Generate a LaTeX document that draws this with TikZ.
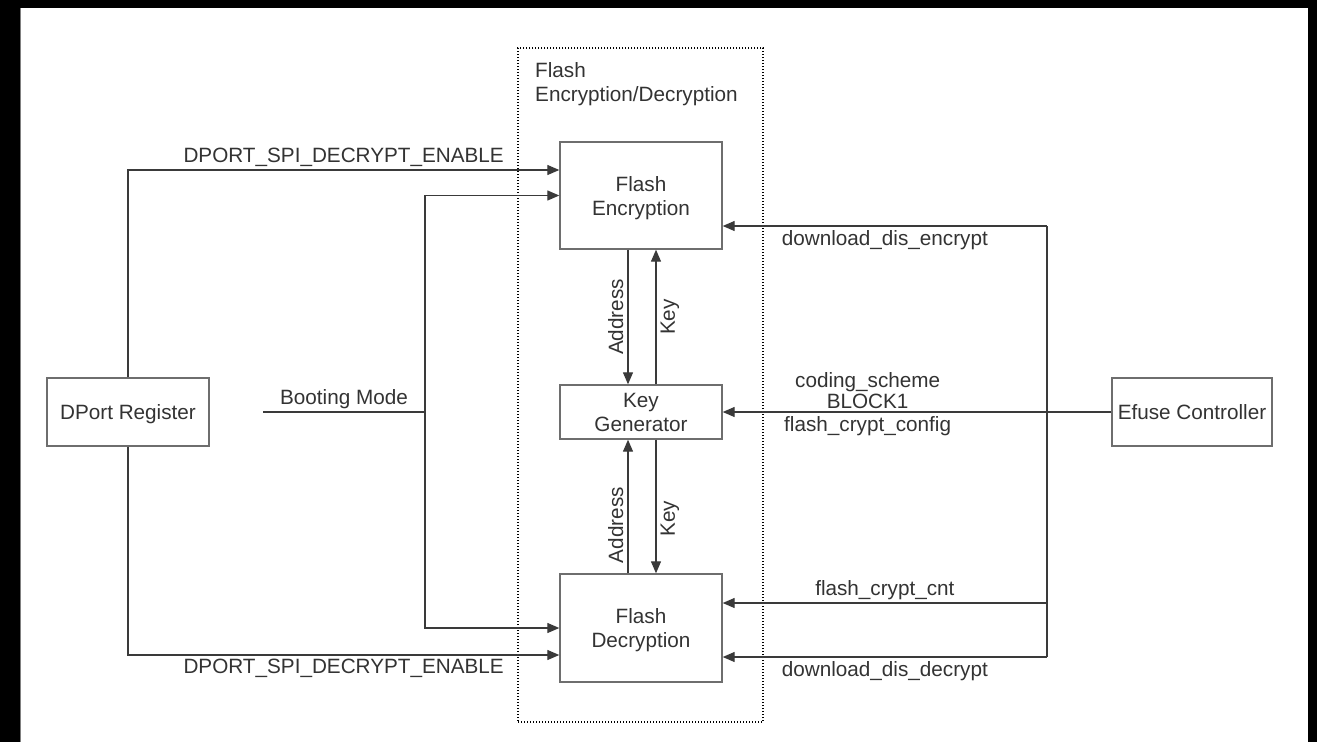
\documentclass[tikz,border=0pt]{standalone}
\usepackage{fontspec}
\setmainfont{Liberation Sans}
\usetikzlibrary{arrows.meta}
\definecolor{inkgray}{HTML}{333333}
\definecolor{linegray}{HTML}{3A3A3A}
\definecolor{boxgray}{HTML}{6E6E6E}
\begin{document}
\begin{tikzpicture}[x=1pt,y=-1pt,
  every node/.style={text=inkgray, font=\fontsize{20.7}{24}\selectfont},
  blockbox/.style={draw=boxgray, line width=1.4pt, inner sep=0pt, align=center,
    minimum width=162pt, text depth=0pt},
  wire/.style={draw=linegray, line width=1.3pt},
  arr/.style={wire, -{Triangle[length=12pt,width=10pt]}},
  sidelabel/.style={inner sep=4pt},
  frame/.style={draw=black, line width=1.3pt, dash pattern=on 1.4pt off 1.6pt}
]
% canvas with dark edge strips
\fill[black] (0,0) rectangle (1317,742);
\fill[white] (20,8) rectangle (1308,742);
\draw[gray, line width=1pt] (20.5,8) -- (20.5,742);

% dotted enclosure and its title
\node[frame, minimum width=245pt, minimum height=674pt, inner sep=0pt] (fed) at (640.5,385) {};
\node[anchor=north west, inner sep=0pt, align=left] (fedtitle) at (535,62)
  {Flash\\Encryption/Decryption};

% blocks
\node[blockbox, minimum height=68pt] (dport) at (128,412) {DPort Register};
\node[blockbox, minimum width=160pt, minimum height=68pt] (efuse) at (1192,412) {Efuse Controller};
\node[blockbox, minimum height=107pt] (enc) at (641,195.5) {Flash\\Encryption};
\node[blockbox, minimum height=54pt] (kg) at (641,412) {Key\\Generator};
\node[blockbox, minimum height=108pt] (dec) at (641,628) {Flash\\Decryption};

% free ends and junctions
\coordinate (bootstart) at (263,412);
\coordinate (bootjoin) at (425,412);
\coordinate (rtop) at (1047,226);
\coordinate (rmid) at (1047,603);
\coordinate (rbot) at (1047,657);

% DPort register enables
\draw[arr] (dport.north) |- ([yshift=25.5pt]enc.west)
  node[pos=0.75, above, inner sep=3pt] {DPORT\_SPI\_DECRYPT\_ENABLE};
\draw[arr] (dport.south) |- ([yshift=-27pt]dec.west)
  node[pos=0.75, below, inner sep=3pt] {DPORT\_SPI\_DECRYPT\_ENABLE};

% booting mode
\draw[wire] (bootstart) -- (bootjoin) node[midway, above, inner sep=3pt] {Booting Mode};
\draw[arr] (bootjoin) |- (enc.west);
\draw[arr] (bootjoin) |- (dec.west);

% address / key exchange
\draw[arr] ([xshift=-13pt]enc.south) -- ([xshift=-13pt]kg.north)
  node[midway, rotate=90, anchor=south, sidelabel] {Address};
\draw[arr] ([xshift=15pt]kg.north) -- ([xshift=15pt]enc.south)
  node[midway, rotate=90, anchor=north, sidelabel] {Key};
\draw[arr] ([xshift=-13pt]dec.north) -- ([xshift=-13pt]kg.south)
  node[pos=0.36, rotate=90, anchor=south, sidelabel] {Address};
\draw[arr] ([xshift=15pt]kg.south) -- ([xshift=15pt]dec.north)
  node[pos=0.59, rotate=90, anchor=north, sidelabel] {Key};

% efuse controller outputs
\draw[arr] (efuse.west) -- (kg.east)
  node[pos=0.627, above, inner sep=3pt, align=center,
       font=\fontsize{20.7}{21}\selectfont] {coding\_scheme\\BLOCK1}
  node[pos=0.627, below, inner sep=4pt] {flash\_crypt\_config};
\draw[wire] (rtop) -- (rbot);
\draw[arr] (rtop) -- ([yshift=-30.5pt]enc.east)
  node[midway, below, inner sep=4pt] {download\_dis\_encrypt};
\draw[arr] (rmid) -- ([yshift=25pt]dec.east)
  node[midway, above, inner sep=3pt] {flash\_crypt\_cnt};
\draw[arr] (rbot) -- ([yshift=-29pt]dec.east)
  node[midway, below, inner sep=4pt] {download\_dis\_decrypt};
\end{tikzpicture}
\end{document}
